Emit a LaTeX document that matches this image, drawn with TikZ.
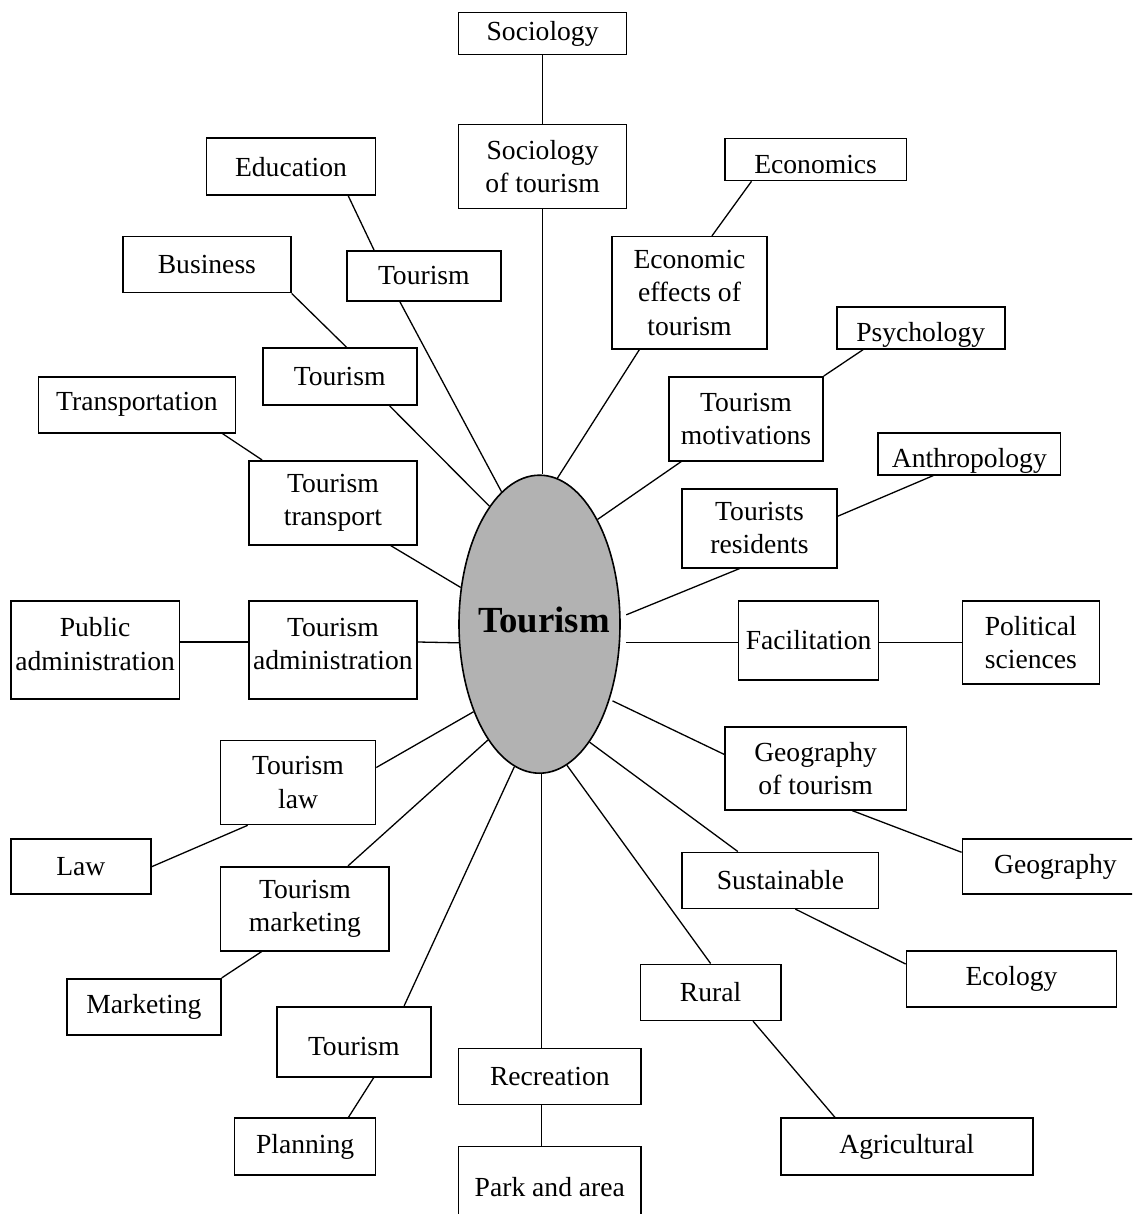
\documentclass[tikz,border=0pt]{standalone}
\usepackage{fontspec}
\setmainfont{Liberation Serif}
\usepackage{tikz}
\usetikzlibrary{shapes}

\begin{document}
\begin{tikzpicture}[x=1pt,y=-1pt,
    block_box/.style ={rectangle, draw=black, line width=1.6pt, fill=white,
      inner sep=0pt, align=center,
      font=\fontsize{27.6}{33.3}\selectfont},
    block_low/.style ={block_box, text height=34pt, text depth=6pt},
    block_high/.style ={block_box, text depth=12pt},
    block_hub/.style ={ellipse, draw=black, line width=1.6pt, fill=gray!60,
      inner sep=0pt, minimum width=161pt, minimum height=298pt,
      text depth=9.5pt, font=\bfseries\fontsize{36.8}{40}\selectfont},
    line/.style ={draw, line width=1.3pt}]
    \useasboundingbox (0,0) rectangle (1132,1214);
    \clip (0,0) rectangle (1132,1214);
    % top - sociology
    \node[block_box, minimum width=168pt, minimum height=42pt] (soc) at (542.6,33.5) {Sociology};
    \node[block_box, minimum width=168pt, minimum height=84pt] (socT) at (542.6,166.7) {Sociology\\of tourism};
    % upper left
    \node[block_box, minimum width=169pt, minimum height=57pt] (edu) at (291,166.7) {Education};
    \node[block_box, minimum width=154pt, minimum height=50pt] (tourA) at (423.8,275.8) {Tourism};
    \node[block_box, minimum width=168pt, minimum height=56pt] (bus) at (206.9,264.7) {Business};
    \node[block_box, minimum width=154pt, minimum height=57pt] (tourB) at (339.7,376.7) {Tourism};
    \node[block_box, minimum width=197pt, minimum height=56pt] (trans) at (137,404.7) {Transportation};
    \node[block_box, minimum width=168pt, minimum height=84pt] (tourC) at (332.9,502.8) {Tourism\\transport};
    % left - administration
    \node[block_high, minimum width=168.6pt, minimum height=98pt] (pub) at (95.1,650) {Public\\administration};
    \node[block_high, minimum width=168.3pt, minimum height=98pt] (tourD) at (332.9,650) {Tourism\\administration};
    % centre
    \node[block_hub] (tour) at (539.5,624.2) {\makebox[0pt]{\hspace{9pt}Tourism}};
    % lower left
    \node[block_box, minimum width=155pt, minimum height=84pt] (tourE) at (298,782.5) {Tourism\\law};
    \node[block_box, minimum width=140pt, minimum height=55pt] (law) at (80.9,866.7) {Law};
    \node[block_box, minimum width=168.6pt, minimum height=84pt] (tourF) at (304.9,908.7) {Tourism\\marketing};
    \node[block_box, minimum width=154pt, minimum height=56pt] (mkt) at (143.9,1006.7) {Marketing};
    \node[block_low, minimum width=154pt, minimum height=70pt] (tourP) at (353.8,1041.7) {Tourism};
    \node[block_box, minimum width=141pt, minimum height=57pt] (plan) at (305.1,1146.7) {Planning};
    % bottom - recreation
    \node[block_box, minimum width=182.6pt, minimum height=56pt] (rec) at (549.8,1076.3) {Recreation};
    \node[block_box, minimum width=182.6pt, minimum height=81pt] (park) at (549.8,1187) {Park and area};
    % upper right
    \node[block_low, minimum width=181.6pt, minimum height=42pt] (eco) at (815.6,159.5) {Economics};
    \node[block_box, minimum width=154.5pt, minimum height=112pt] (ecoEff) at (689.5,292.7) {Economic\\effects of\\tourism};
    \node[block_low, minimum width=168pt, minimum height=42pt] (psy) at (920.7,327.7) {Psychology};
    \node[block_box, minimum width=154pt, minimum height=84pt] (tourMot) at (746,418.8) {Tourism\\motivations};
    \node[block_low, minimum width=182.3pt, minimum height=42pt] (anth) at (969.4,453.7) {Anthropology};
    \node[block_box, minimum width=154.6pt, minimum height=79pt] (tourRes) at (759.5,528.3) {Tourists\\residents};
    % right - politics
    \node[block_box, minimum width=140pt, minimum height=79pt] (fac) at (808.6,640.5) {Facilitation};
    \node[block_box, minimum width=137pt, minimum height=83pt] (pol) at (1030.8,642.7) {Political\\sciences};
    % lower right
    \node[block_box, minimum width=181.6pt, minimum height=83pt] (geoT) at (815.6,768.3) {Geography\\of tourism};
    \node[block_box, minimum width=186pt, minimum height=55pt] (geo) at (1055.4,866.7) {Geography};
    \node[block_box, minimum width=196.4pt, minimum height=56pt] (sust) at (780.4,880.3) {Sustainable};
    \node[block_box, minimum width=210pt, minimum height=56pt] (ecol) at (1011.5,978.7) {Ecology};
    \node[block_box, minimum width=140.4pt, minimum height=56pt] (rural) at (710.6,992.3) {Rural};
    \node[block_box, minimum width=252pt, minimum height=57pt] (agri) at (906.8,1146.7) {Agricultural};
    % connecting nodes with paths
    \begin{scope}[every path/.style=line]
     \path (soc.south) -- (socT.north);
     \path (socT.south) -- (socT.south |- tour.north);
     \path ([xshift=-28pt]edu.south east) -- ([xshift=28pt]tourA.north west);
     \path ([xshift=-24pt]tourA.south) -- (tour.106);
     \path (bus.south east) -- ([xshift=7pt]tourB.north);
     \path ([xshift=50pt]tourB.south) -- (tour.113);
     \path ([xshift=-14pt]trans.south east) -- ([xshift=14pt]tourC.north west);
     \path ([xshift=-27pt]tourC.south east) -- (tour.155);
     \path ([yshift=8pt]pub.east) -- ([yshift=8pt]tourD.west);
     \path ([yshift=8pt]tourD.east) -- (tour.193);
     \path (tour.233) -- ([yshift=15pt]tourE.east);
     \path ([xshift=28pt]tourE.south west) -- (law.east);
     \path (tour.246) -- ([xshift=-42pt]tourF.north east);
     \path ([xshift=42pt]tourF.south west) -- (mkt.north east);
     \path (tour.260) -- ([xshift=-27.5pt]tourP.north east);
     \path ([xshift=20pt]tourP.south) -- ([xshift=-28pt]plan.north east);
     \path ([xshift=84pt]rec.north west) -- ([xshift=84pt]rec.north west |- tour.south);
     \path ([xshift=84pt]rec.south west) -- ([xshift=84pt]park.north west);
     \path ([xshift=27.5pt]eco.south west) -- ([xshift=-55.6pt]ecoEff.north east);
     \path ([xshift=28pt]ecoEff.south west) -- (tour.83);
     \path ([xshift=27.4pt]psy.south west) -- (tourMot.north east);
     \path ([xshift=13pt]tourMot.south west) -- (tour.61);
     \path ([xshift=56pt]anth.south west) -- ([yshift=12pt]tourRes.east);
     \path[shorten >=6pt] ([xshift=-20pt]tourRes.south) -- (tour.5);
     \path[shorten <=6pt] (tour.347) -- (tour.347 -| fac.west);
     \path (fac.east |- pol.west) -- (pol.west);
     \path[shorten <=3pt] (tour.313.3) -- ([yshift=14pt]geoT.west);
     \path ([xshift=-55pt]geoT.south east) -- ([yshift=14.4pt]geo.west);
     \path (tour.293) -- ([xshift=56.4pt]sust.north west);
     \path ([xshift=15pt]sust.south) -- ([yshift=14.7pt]ecol.west);
     \path (tour.281) -- (rural.north);
     \path ([xshift=42.4pt]rural.south) -- ([xshift=55pt]agri.north west);
    \end{scope}
\end{tikzpicture}
\end{document}
